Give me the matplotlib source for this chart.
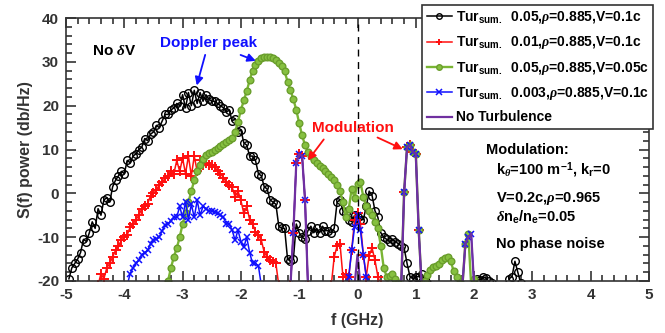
import numpy as np
import matplotlib
matplotlib.use("Agg")
import matplotlib.pyplot as plt
from matplotlib.ticker import MultipleLocator

plt.rcParams['font.family'] = ['Liberation Sans', 'DejaVu Sans']
plt.rcParams['font.weight'] = 'bold'
plt.rcParams['axes.unicode_minus'] = False
plt.rcParams['mathtext.fontset'] = 'custom'
plt.rcParams['mathtext.rm'] = 'Liberation Sans:bold'
plt.rcParams['mathtext.bf'] = 'Liberation Sans:bold'
plt.rcParams['mathtext.it'] = 'Liberation Serif:italic'

# ---------------- data ----------------
# black: Tur 0.05, rho=0.885, V=0.1c  (sampled every 0.05 GHz)
black_f = np.round(np.arange(-4.95, 2.81, 0.05), 2)
black_s = [-19.5, -17, -16, -15, -13.5, -10.5, -11, -9, -6.5, -8,
           -3.5, -5, -1.5, -1, -2, 1.5, 3, 4, 5, 4.5,
           7.5, 7, 8.5, 9, 10, 10.5, 12.5, 12, 13.5, 14,
           15.5, 15, 16.5, 18, 18, 19, 19.5, 20.5, 20, 22.5,
           19.5, 23, 20, 23.5, 20.5, 23, 21, 22.5, 21.5, 21,
           21, 20.5, 20, 19.5, 18.5, 19, 16.5, 17, 14, 14.5,
           11.5, 11, 8.5, 8.5, 7.5, 4.5, 4, 1.5, 1, -1.5,
           -2, -2.5, -7.5, -8, -8, -15, -15.5, -15, -7, -9,
           -10, -10.5, -8.5, -7.5, -9, -8, -9, -7.5, -8.5, -8.5,
           -9, -8, -2, -1.5, -4, -4.5, -6, -6.5, -5, -5.5,
           -6, -6, -3, 0.5, -0.5, -4, -5.5, -9, -10, -10.5,
           -11, -10.5, -11, -11.5, -12, -12.5, -16, -19, -19.5, -19,
           -19, -18.5, -19.5, -20.5, np.nan, np.nan, np.nan, np.nan, np.nan, np.nan,
           np.nan, np.nan, np.nan, np.nan, np.nan, np.nan, np.nan, np.nan, np.nan, np.nan,
           -19.5, -19.8, -19, -19.3, -20, -20.5, np.nan, np.nan, np.nan, np.nan,
           np.nan, -19.5, -19, -15.5, -18, -20.5]

# red: Tur 0.01, rho=0.885, V=0.1c
red_f = [-4.45, -4.40, -4.35, -4.30, -4.25, -4.20, -4.15, -4.10, -4.05, -4.00,
         -3.95, -3.90, -3.85, -3.80, -3.75, -3.70, -3.65, -3.60, -3.55, -3.50,
         -3.45, -3.40, -3.35, -3.30, -3.25, -3.20, -3.15, -3.10, -3.05, -3.00,
         -2.95, -2.90, -2.85, -2.80, -2.75, -2.70, -2.65, -2.60, -2.55, -2.50,
         -2.45, -2.40, -2.35, -2.30, -2.25, -2.20, -2.15, -2.10, -2.05, -2.00,
         -1.95, -1.90, -1.85, -1.80, -1.75, -1.70, -1.65, -1.60, -1.55, -1.50,
         -1.45, -1.40, -1.35,
         -1.15, -1.10, -1.05, -1.00, -0.95, -0.90, -0.85,
         -0.45, -0.40, -0.35, -0.30, -0.25, -0.20, -0.15, -0.10, -0.05, 0.00,
         0.05, 0.10, 0.15, 0.20, 0.25, 0.30, 0.35, 0.40,
         0.75, 0.80, 0.85, 0.90, 0.95, 1.00, 1.05, 1.10]
red_s = [-21, -18.3, -19.5, -17, -16, -14.5, -13, -12, -10.7, -10,
         -9.5, -7.7, -7, -6, -5, -3.5, -3, -2.4, -0.5, 0,
         0.7, 2, 2.6, 3.4, 4, 5.2, 4.5, 7.5, 5, 8,
         4.5, 8.5, 4, 8.5, 5, 7.5, 6.5, 7, 6.5, 6.5,
         6, 5.2, 4.5, 3.6, 2.5, 1.8, 1.4, -0.8, 0.5, -1.6,
         -4.6, -3, -6, -6.9, -8.8, -9.5, -10.7, -13.4, -14.5, -15.3,
         -15.7, -16, -21,
         -21, -9, 7, 9, 8.5, -1.5, -21,
         -21, -14.5, -12, -11.5, -19, -18.3, -19, -13, -6, -4.6,
         -7, -14, -19, -14.2, -12.5, -15.3, -19, -21,
         -21, 0.3, 10.5, 11, 9.5, 9, -8.4, -21]

# green: Tur 0.05, rho=0.885, V=0.05c
green_f = [-3.25, -3.20, -3.15, -3.10, -3.05, -3.00, -2.95, -2.90, -2.85, -2.80,
           -2.75, -2.70, -2.65, -2.60, -2.55, -2.50, -2.45, -2.40, -2.35, -2.30,
           -2.25, -2.20, -2.15, -2.10, -2.05, -2.00, -1.95, -1.90, -1.85, -1.80,
           -1.75, -1.70, -1.65, -1.60, -1.55, -1.50, -1.45, -1.40, -1.35, -1.30,
           -1.25, -1.20, -1.15, -1.10, -1.05, -1.00, -0.95, -0.90, -0.85, -0.80,
           -0.75, -0.70, -0.65, -0.60, -0.55, -0.50, -0.45, -0.40, -0.35, -0.30,
           -0.25, -0.20, -0.15, -0.10, -0.05, 0.00, 0.05, 0.10, 0.15, 0.20,
           0.25, 0.30, 0.35, 0.40, 0.45, 0.50, 0.55, 0.60, 0.65, 0.70,
           0.75, 0.80, 0.85, 0.90, 0.95, 1.00, 1.05, 1.10,
           1.15, 1.20, 1.25, 1.30, 1.35, 1.40, 1.45, 1.50, 1.55, 1.60,
           1.65, 1.70, 1.75, 1.80, 1.85, 1.90, 1.95, 2.00]
green_s = [-20, -17, -14.5, -12.5, -10, -7, -4.5, -2, 0.5, 3,
           5, 6.5, 7.8, 8.7, 9.1, 9.5, 10, 10.4, 10.9, 11.2,
           11.7, 12.1, 12.7, 14, 16.3, 19, 21.2, 23.3, 25.8, 28,
           29.3, 30.2, 30.8, 31.1, 31.2, 31.1, 30.9, 30.5, 29.8, 29,
           27.8, 25.5, 23.5, 21.5, 19, 16, 13.2, 11, 9.5, 8.5,
           7.7, 7, 6.2, 5.7, 5, 4.4, 3.8, 3, 2, 0.5,
           -2, -5.5, -3.5, 1, -1, 2.2, 2.6, -0.8, -3, -4,
           -5, -6.5, -8, -12, -17, -19, -18.8, -18.3, -19.5, -20.5,
           -21, 0.3, 10.5, 11, 9.5, 9, -8.4, -21,
           -20, -18.7, -17.6, -16.8, -16.5, -16.2, -15.3, -14.7, -14.5, -15.5,
           -17.8, -19, -20.5, -21, -11.5, -9.2, -21, -19.5]

# blue: Tur 0.003, rho=0.885, V=0.1c
blue_f = [-3.95, -3.90, -3.85, -3.80, -3.75, -3.70, -3.65, -3.60, -3.55, -3.50,
          -3.45, -3.40, -3.35, -3.30, -3.25, -3.20, -3.15, -3.10, -3.05, -3.00,
          -2.95, -2.90, -2.85, -2.80, -2.75, -2.70, -2.65, -2.60, -2.55, -2.50,
          -2.45, -2.40, -2.35, -2.30, -2.25, -2.20, -2.15, -2.10, -2.05, -2.00,
          -1.95, -1.90, -1.85, -1.80, -1.75, -1.70, -1.65,
          -1.15, -1.10, -1.05, -1.00, -0.95, -0.90, -0.85,
          -0.20, -0.15, -0.10, -0.05, 0.00, 0.05, 0.10, 0.15, 0.20,
          0.75, 0.80, 0.85, 0.90, 0.95, 1.00, 1.05, 1.10,
          1.80, 1.85, 1.90, 1.95, 2.00]
blue_s = [-21, -18.3, -17, -16, -15.3, -14, -13.5, -13, -11.5, -10.7,
          -10.5, -10, -8.5, -7.3, -7, -6.2, -5.5, -5.4, -3, -5.5,
          -2, -6, -2.5, -5.5, -1.6, -5, -3, -3.5, -4, -4,
          -4.3, -4.6, -5, -5.5, -6.9, -7, -8.4, -10.7, -8.4, -11,
          -12.3, -10, -13.5, -16, -16, -16.5, -21,
          -21, -9, 7, 9, 8.5, -1.5, -21,
          -21, -19, -13, -7.7, -5, -8.4, -14, -19, -21,
          -21, 0.3, 10.5, 11, 9.5, 9, -8.4, -21,
          -21, -11.5, -10, -9.2, -21]

# purple: no turbulence
purple_f = [-1.15, -1.10, -1.05, -1.00, -0.95, -0.90, -0.85,
            -0.05, 0.00, 0.05,
            0.75, 0.80, 0.85, 0.90, 0.95, 1.00, 1.05, 1.10,
            1.80, 1.85, 1.90, 1.95, 2.00]
purple_s = [-21, -9, 7, 9, 8.5, -1.5, -21,
            -21, -14, -21,
            -21, 0.3, 10.5, 11, 9.5, 9, -8.4, -21,
            -21, -11.5, -10, -9.2, -21]

labels = [r"Tur$_{\mathbf{sum.}}$  0.05,$\rho$=0.885,V=0.1c",
          r"Tur$_{\mathbf{sum.}}$  0.01,$\rho$=0.885,V=0.1c",
          r"Tur$_{\mathbf{sum.}}$  0.05,$\rho$=0.885,V=0.05c",
          r"Tur$_{\mathbf{sum.}}$  0.003,$\rho$=0.885,V=0.1c",
          "No Turbulence"]

# ---------------- plot ----------------
fig = plt.figure(figsize=(6.65, 3.33), dpi=100)
ax = fig.add_axes([66 / 665, 1 - 281 / 333, 583 / 665, 263 / 333])

ax.plot(black_f, black_s, color='k', lw=1.1, marker='o', ms=5.5, mfc='none', mew=1.0, label=labels[0])
ax.plot(red_f, red_s, color='#ff1010', lw=1.1, marker='+', ms=6.5, mew=1.4, label=labels[1])
ax.plot(green_f, green_s, color='#7ab534', lw=1.7, marker='o', ms=4.8, mfc='#86c040', mec='#6a9e2c', label=labels[2])
ax.plot(blue_f, blue_s, color='#1010ff', lw=1.1, marker='x', ms=4.2, mew=1.1, label=labels[3])
ax.plot(purple_f, purple_s, color='#7030a0', lw=1.6, label=labels[4])

ax.axvline(0, color='k', ls=(0, (5, 4)), lw=1.0)

ax.set_xlim(-5, 5)
ax.set_ylim(-20, 40)
ax.xaxis.set_major_locator(MultipleLocator(1))
ax.xaxis.set_minor_locator(MultipleLocator(0.2))
ax.yaxis.set_major_locator(MultipleLocator(10))
ax.yaxis.set_minor_locator(MultipleLocator(2))
ax.tick_params(which='both', direction='in', top=True, right=True, colors='#333333',
               labelsize=11, width=1.2)
ax.tick_params(which='major', length=7, pad=5)
ax.tick_params(which='minor', length=4)
for sp in ax.spines.values():
    sp.set_linewidth(1.2)
    sp.set_color('#333333')
for lab in ax.get_xticklabels() + ax.get_yticklabels():
    lab.set_fontweight('bold')

ax.set_xlabel("f (GHz)", fontsize=11.5, fontweight='bold', color='#333333')
ax.set_ylabel("S(f) power (db/Hz)", fontsize=11.5, fontweight='bold', color='#333333')
ax.xaxis.set_label_coords(0.5, -0.12)
ax.yaxis.set_label_coords(-0.056, 0.5)

# annotations
ax.text(-4.55, 32.5, r"No $\delta$V", fontsize=11, fontweight='bold', va='center')
ax.text(-2.55, 34.3, "Doppler peak", fontsize=11, fontweight='bold', color='#1010ff', ha='center', va='center')
ax.annotate("", xy=(-2.77, 24), xytext=(-2.6, 32.2),
            arrowprops=dict(arrowstyle='-|>', color='#1010ff', lw=1.3, mutation_scale=12))
ax.annotate("", xy=(-1.7, 30), xytext=(-2.05, 31.8),
            arrowprops=dict(arrowstyle='-|>', color='#1010ff', lw=1.3, mutation_scale=12))
ax.text(-0.08, 15, "Modulation", fontsize=11, fontweight='bold', color='#ff1010', ha='center', va='center')
ax.annotate("", xy=(-0.88, 7), xytext=(-0.55, 12.8),
            arrowprops=dict(arrowstyle='-|>', color='#ff1010', lw=1.3, mutation_scale=12))
ax.annotate("", xy=(0.82, 9.8), xytext=(0.3, 13),
            arrowprops=dict(arrowstyle='-|>', color='#ff1010', lw=1.3, mutation_scale=12))

ax.text(2.2, 9.8, "Modulation:", fontsize=10.5, fontweight='bold', va='center')
ax.text(2.38, 5.2, r"k$_{\theta}$=100 m$^{-1}$, k$_{\mathbf{r}}$=0", fontsize=10.5, fontweight='bold', va='center')
ax.text(2.38, -1.2, r"V=0.2c,$\rho$=0.965", fontsize=10.5, fontweight='bold', va='center')
ax.text(2.38, -5.5, r"$\delta$n$_{\mathbf{e}}$/n$_{\mathbf{e}}$=0.05", fontsize=10.5, fontweight='bold', va='center')
ax.text(2.38, -11.5, "No phase noise", fontsize=10.5, fontweight='bold', va='center')

leg = fig.legend(loc='upper right', bbox_to_anchor=(653 / 665, 1 - 5 / 333), fontsize=10,
                 frameon=True, fancybox=False, edgecolor='#333333', framealpha=1,
                 handlelength=1.8, handletextpad=0.3, labelspacing=0.6, borderpad=0.3,
                 borderaxespad=0)
leg.get_frame().set_linewidth(1.2)
for h in leg.legend_handles:
    h.set_markersize(4)

fig.savefig("out.png", dpi=100)
